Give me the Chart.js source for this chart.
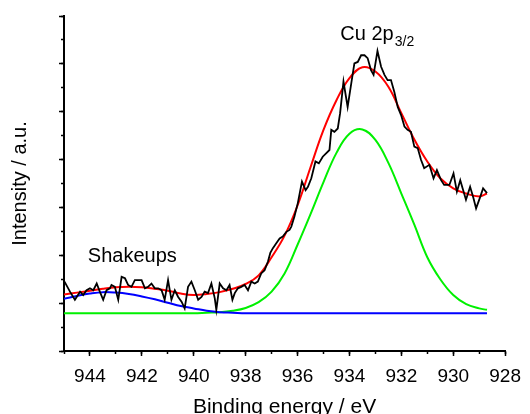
<!DOCTYPE html>
<html><head><meta charset="utf-8">
<script src="https://cdn.jsdelivr.net/npm/chart.js@4.4.1/dist/chart.umd.min.js"></script>
<style>html,body{margin:0;padding:0;background:#fff}canvas{display:block}</style>
</head><body>
<canvas id="c" width="530" height="414"></canvas>
<script>
// Measured spectrum (binding energy, intensity in a.u.)
const rawE = [944.98,944.77,944.58,944.38,944.26,944.13,944.00,943.87,943.74,943.62,943.49,943.36,943.23,943.17,943.04,942.91,942.78,942.65,942.53,942.40,942.27,942.14,942.01,941.88,941.76,941.63,941.50,941.37,941.24,941.12,940.99,940.86,940.73,940.60,940.47,940.35,940.22,940.09,939.96,939.83,939.70,939.58,939.45,939.32,939.19,939.13,939.00,938.87,938.74,938.62,938.51,938.42,938.30,938.17,938.04,937.91,937.78,937.65,937.53,937.40,937.27,937.14,937.05,936.95,936.82,936.69,936.57,936.43,936.31,936.24,936.12,935.99,935.83,935.69,935.60,935.47,935.31,935.18,935.03,934.90,934.77,934.70,934.58,934.45,934.36,934.23,934.07,933.93,933.81,933.68,933.55,933.42,933.30,933.17,933.07,932.92,932.78,932.65,932.53,932.40,932.27,932.14,932.01,931.88,931.76,931.63,931.50,931.37,931.24,931.12,930.92,930.76,930.63,930.47,930.35,930.15,929.99,929.86,929.73,929.64,929.51,929.35,929.22,929.12,928.96,928.85,928.70];
const rawI = [1.45,1.24,1.07,1.24,1.17,1.27,1.31,1.27,1.41,1.24,1.07,1.27,1.31,1.38,1.34,1.07,1.55,1.52,1.38,1.34,1.48,1.48,1.48,1.31,1.34,1.41,1.31,1.31,1.27,1.07,1.48,1.07,1.27,1.13,1.03,0.89,1.34,1.45,1.27,1.07,1.13,1.24,1.21,1.41,1.10,0.86,1.41,1.31,1.27,1.38,1.07,1.21,1.31,1.34,1.38,1.27,1.45,1.41,1.45,1.62,1.69,1.87,2.05,2.15,2.25,2.35,2.39,2.49,2.53,2.60,2.81,3.09,3.54,3.36,3.43,3.61,3.96,3.92,4.06,4.13,4.20,4.62,4.58,4.65,4.97,5.63,5.10,5.59,6.01,6.04,6.18,6.18,6.12,5.87,5.77,6.27,5.94,5.77,5.66,5.66,5.41,5.10,4.93,4.69,4.62,4.58,4.27,4.24,3.99,3.82,3.89,3.61,3.78,3.57,3.47,3.47,3.71,3.33,3.57,3.40,3.16,3.43,3.19,2.98,3.22,3.40,3.30];

// Fit curves sampled on a common energy grid
const fitE = [945,944.5,944,943.5,943,942.5,942,941.5,941,940.5,940,939.5,939,938.5,938,937.5,937,936.5,936,935.5,935,934.5,934,933.5,933,932.5,932,931.5,931,930.5,930,929.5,929,928.7];
const envelope = [1.18,1.22,1.26,1.30,1.33,1.34,1.33,1.30,1.26,1.20,1.17,1.19,1.23,1.30,1.40,1.58,1.96,2.41,3.04,3.84,4.62,5.24,5.70,5.93,5.84,5.52,4.97,4.42,3.96,3.61,3.40,3.29,3.23,3.29];
const cuPeak = [0.79,0.79,0.79,0.79,0.79,0.79,0.79,0.79,0.79,0.79,0.79,0.80,0.81,0.84,0.90,1.02,1.24,1.62,2.22,2.86,3.53,4.14,4.54,4.63,4.41,3.93,3.29,2.64,1.96,1.50,1.17,0.98,0.89,0.86];
const shakeup = [1.09,1.15,1.20,1.23,1.22,1.19,1.14,1.08,1.01,0.94,0.89,0.84,0.81,0.80,0.79,0.79,0.79,0.79,0.79,0.79,0.79,0.79,0.79,0.79,0.79,0.79,0.79,0.79,0.79,0.79,0.79,0.79,0.79,0.79];

const xTickLabels = [944,942,940,938,936,934,932,930,928];
const xRange = [928, 945];
const yRange = [0, 7];

const pts = (xs, ys) => xs.map((x, i) => ({x, y: ys[i]}));
const FONT = '"Liberation Sans", Arial, Helvetica, sans-serif';
Chart.defaults.font.family = FONT;
Chart.defaults.color = '#000';

const labelsPlugin = {
  id: 'peakLabels',
  afterDatasetsDraw(chart) {
    const {ctx, scales: {x, y}} = chart;
    ctx.save();
    ctx.fillStyle = '#000';
    ctx.textBaseline = 'alphabetic';
    ctx.textAlign = 'left';
    ctx.font = '20px ' + FONT;
    ctx.fillText('Shakeups', x.getPixelForValue(944.08), y.getPixelForValue(1.86));
    const cx = x.getPixelForValue(934.35), cy = y.getPixelForValue(6.50);
    ctx.fillText('Cu 2p', cx, cy);
    const w = ctx.measureText('Cu 2p').width;
    ctx.font = '14px ' + FONT;
    ctx.fillText('3/2', cx + w + 1, cy + 6);
    ctx.restore();
  }
};

const line = (data, color, width, tension) => ({
  data, borderColor: color, borderWidth: width, pointRadius: 0, fill: false, tension
});

new Chart(document.getElementById('c'), {
  type: 'line',
  data: {
    datasets: [
      line(pts(rawE, rawI), '#000000', 1.8, 0),
      line(pts(fitE, envelope), '#ff0000', 2, 0.4),
      line(pts(fitE, shakeup), '#0000ff', 2, 0.4),
      line(pts(fitE, cuPeak), '#00f000', 2, 0.4)
    ]
  },
  options: {
    responsive: false,
    animation: false,
    events: [],
    layout: {padding: {left: 0, right: 23, top: 16, bottom: 0}},
    plugins: {legend: {display: false}, tooltip: {enabled: false}},
    scales: {
      x: {
        type: 'linear', position: 'bottom', reverse: true, weight: 10,
        min: xRange[0], max: xRange[1],
        afterBuildTicks: s => { s.ticks = xTickLabels.map(v => ({value: v})); },
        ticks: {font: {size: 19}, color: '#000', padding: 9, maxRotation: 0, autoSkip: false},
        grid: {display: true, drawOnChartArea: false, drawTicks: true, tickLength: 5, tickColor: '#000', tickWidth: 1.5},
        border: {display: true, color: '#000', width: 2},
        title: {display: true, text: 'Binding energy / eV', color: '#000', font: {size: 21, lineHeight: 0.9}, padding: {top: 0, bottom: -3}},
        afterFit: s => { s.height = 63; }
      },
      x2: {
        type: 'linear', position: 'bottom', reverse: true, weight: 0,
        min: xRange[0], max: xRange[1],
        ticks: {display: false, stepSize: 1, includeBounds: false},
        grid: {display: true, drawOnChartArea: false, drawTicks: true, tickLength: 3, tickColor: '#000', tickWidth: 1.5},
        border: {display: false},
        afterFit: s => { s.height = 0; }
      },
      y: {
        type: 'linear', position: 'left', weight: 10,
        min: yRange[0], max: yRange[1],
        ticks: {display: false, stepSize: 1},
        grid: {display: true, drawOnChartArea: false, drawTicks: true, tickLength: 5, tickColor: '#000', tickWidth: 1.5},
        border: {display: true, color: '#000', width: 2},
        title: {display: true, text: 'Intensity / a.u.', color: '#000', font: {size: 20}, padding: {top: 8, bottom: 0}},
        afterFit: s => { s.width = 64; }
      },
      y2: {
        type: 'linear', position: 'left', weight: 0,
        min: yRange[0], max: yRange[1],
        ticks: {display: false, stepSize: 0.5},
        grid: {display: true, drawOnChartArea: false, drawTicks: true, tickLength: 3, tickColor: '#000', tickWidth: 1.5},
        border: {display: false},
        afterFit: s => { s.width = 0; }
      }
    }
  },
  plugins: [labelsPlugin]
});
</script>
</body></html>
